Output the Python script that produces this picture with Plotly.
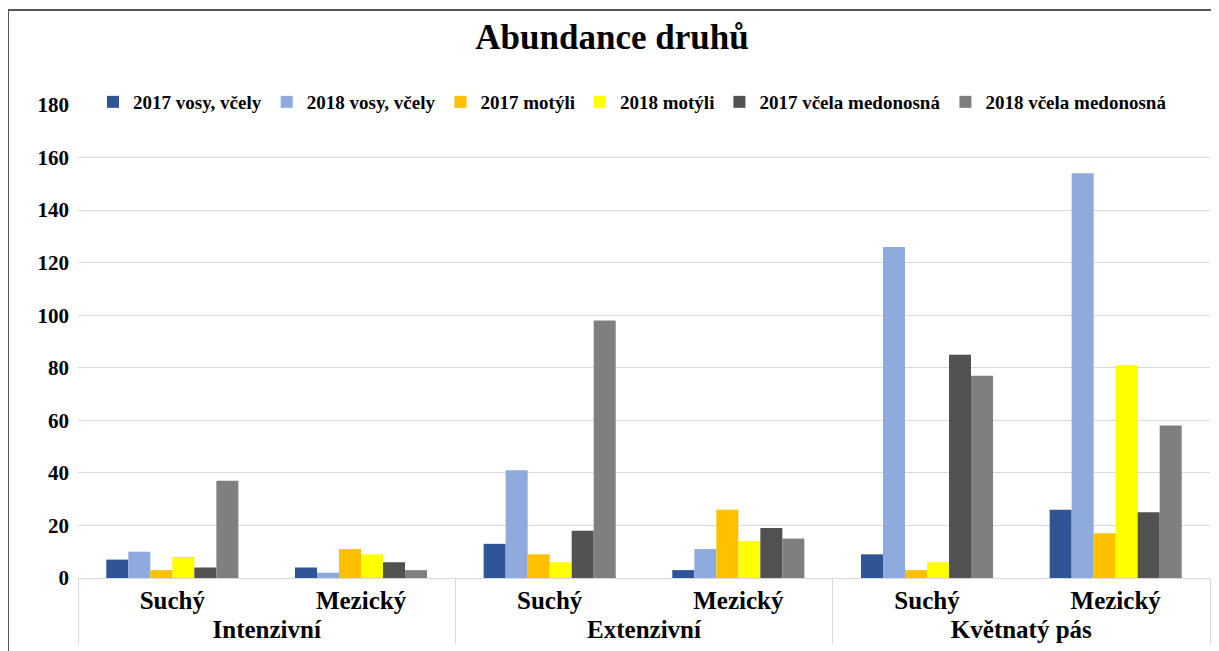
import plotly.graph_objects as go

groups = ["Intenzivní", "Intenzivní", "Extenzivní", "Extenzivní", "Květnatý pás", "Květnatý pás"]
subcats = ["Suchý", "Mezický", "Suchý", "Mezický", "Suchý", "Mezický"]

series_names = ["2017 vosy, včely", "2018 vosy, včely", "2017 motýli", "2018 motýli",
                "2017 včela medonosná", "2018 včela medonosná"]
vosy_2017 = [7, 4, 13, 3, 9, 26]
vosy_2018 = [10, 2, 41, 11, 126, 154]
motyli_2017 = [3, 11, 9, 26, 3, 17]
motyli_2018 = [8, 9, 6, 14, 6, 81]
vcela_2017 = [4, 6, 18, 19, 85, 25]
vcela_2018 = [37, 3, 98, 15, 77, 58]
colors = ["#2F5597", "#8FAADC", "#FFC000", "#FFFF00", "#525252", "#7F7F7F"]
y_ticks = [0, 20, 40, 60, 80, 100, 120, 140, 160, 180]

series_values = [vosy_2017, vosy_2018, motyli_2017, motyli_2018, vcela_2017, vcela_2018]

FONT = "Liberation Serif, Times New Roman, serif"

fig = go.Figure()
for name, vals, col in zip(series_names, series_values, colors):
    fig.add_trace(go.Bar(x=[groups, subcats], y=vals, name=name,
                         marker=dict(color=col, line=dict(width=0))))

# page has an 8px body margin; work in page pixels and convert
OFF = 8
W, H = 1219 - OFF, 651 - OFF
L, R, T, B = 78 - OFF, 1210 - OFF, 105 - OFF, 578 - OFF
def xp(px):
    return (px - OFF - L) / (R - L)
def yp(py):
    return (B - (py - OFF)) / (B - T)

fig.update_layout(
    width=W, height=H,
    margin=dict(l=L, r=W - R, t=T, b=H - B),
    paper_bgcolor="white", plot_bgcolor="white",
    barmode="group", bargap=0.3, bargroupgap=0,
    font=dict(family=FONT, color="#000000"),
    title=dict(text="Abundance druhů", x=(612 - OFF) / W, xanchor="center",
               y=1 - (37 - OFF) / H, yanchor="middle", yref="container",
               font=dict(family=FONT, size=35, color="#000000", weight="bold")),
    legend=dict(orientation="h", x=xp(93), xanchor="left", y=yp(102), yanchor="middle",
                bgcolor="white", font=dict(family=FONT, size=19, color="#000000", weight="bold"),
                itemwidth=30, tracegroupgap=0, traceorder="normal"),
    showlegend=True,
    yaxis=dict(range=[0, 180], tickvals=y_ticks, showgrid=True, gridcolor="#D9D9D9",
               gridwidth=1, zeroline=False, showline=False, ticks="",
               tickfont=dict(family=FONT, size=21, color="#000000", weight="bold"),
               ticklabelstandoff=8),
    xaxis=dict(type="multicategory", showline=True, linecolor="#D9D9D9", linewidth=1,
               showdividers=True, dividercolor="#D9D9D9", dividerwidth=1,
               tickfont=dict(family=FONT, size=25, color="#000000", weight="bold"),
               showgrid=False, ticks=""),
    shapes=[
        dict(type="line", xref="paper", yref="paper", x0=xp(8), x1=xp(1219), y0=yp(10), y1=yp(10),
             line=dict(color="#555555", width=2)),
        dict(type="line", xref="paper", yref="paper", x0=xp(8), x1=xp(8), y0=yp(10), y1=yp(651),
             line=dict(color="#555555", width=2)),
    ],
)

fig.write_html("out.html")
